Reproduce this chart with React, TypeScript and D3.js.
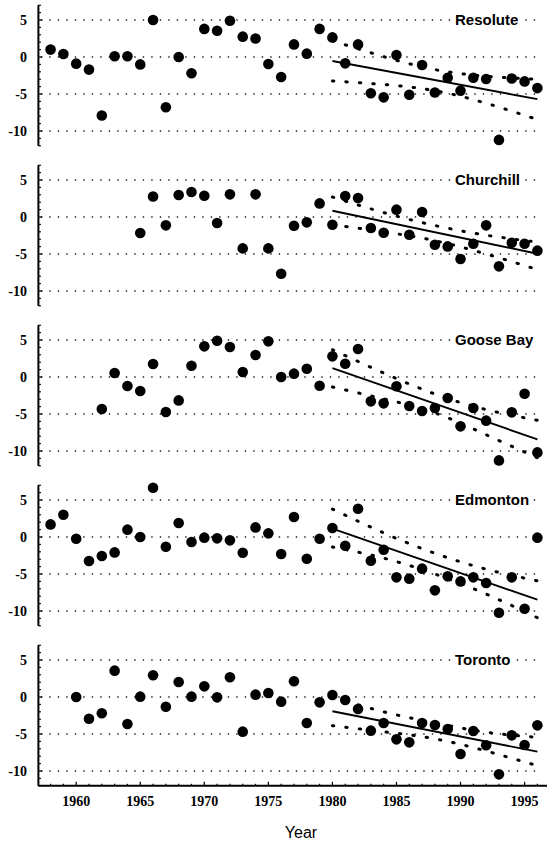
import React from 'react';
import * as d3 from 'd3';

// ---------- data ----------
const stations = ['Resolute', 'Churchill', 'Goose Bay', 'Edmonton', 'Toronto'];
const startYears = [1958, 1965, 1962, 1958, 1960];

const resolute = [1.0, 0.4, -0.9, -1.7, -7.9, 0.1, 0.1, -1.0, 5.0, -6.8, 0.0, -2.2, 3.8, 3.55, 4.9, 2.75, 2.5, -0.95, -2.7,
  1.7, 0.45, 3.8, 2.65, -0.86, 1.7, -4.9, -5.45, 0.27, -5.1, -1.08, -4.8, -2.8, -4.55, -2.8, -2.97, -11.2, -2.9, -3.3, -4.2];
const churchill = [-2.16, 2.78, -1.13, 2.97, 3.38, 2.88, -0.81, 3.06, -4.24, 3.06, -4.24, -7.66, -1.18, -0.72, 1.84,
  -1.04, 2.83, 2.56, -1.49, -2.12, 0.99, -2.39, 0.67, -3.74, -3.97, -5.68, -3.61, -1.13, -6.67, -3.47, -3.61, -4.55];
const gooseBay = [-4.32, 0.54, -1.22, -1.89, 1.76, -4.73, -3.16, 1.53, 4.14, 4.9, 4.05, 0.68, 2.97, 4.82, 0.0, 0.45, 1.12, -1.18,
  2.79, 1.8, 3.78, -3.29, -3.56, -1.26, -3.92, -4.6, -4.19, -2.84, -6.67, -4.19, -5.9, -11.27, -4.78, -2.26, -10.19];
const edmonton = [1.7, 3.01, -0.23, -3.24, -2.57, -2.08, 0.99, 0.0, 6.66, -1.31, 1.89, -0.68, -0.09, -0.18, -0.45, -2.12, 1.3, 0.49,
  -2.3, 2.7, -2.93, -0.23, 1.21, -1.18, 3.82, -3.2, -1.72, -5.45, -5.63, -4.28, -7.21, -5.32, -6.0, -5.45, -6.22, -10.23, -5.45, -9.69, -0.09];
const toronto = [0.0, -2.93, -2.2, 3.56, -3.65, 0.05, 2.93, -1.31, 2.03, 0.05, 1.44, -0.05, 2.66, -4.68, 0.32, 0.54, -0.63, 2.12,
  -3.51, -0.72, 0.27, -0.41, -1.62, -4.55, -3.51, -5.72, -6.13, -3.51, -3.78, -4.32, -7.7, -4.59, -6.53, -10.45, -5.18, -6.49, -3.83];
const seriesValues = [resolute, churchill, gooseBay, edmonton, toronto];

// trend line (1980 -> 1996)
const trendYears = [1980, 1996];
const trendResolute = [-0.54, -5.7];
const trendChurchill = [0.85, -4.96];
const trendGooseBay = [1.21, -8.43];
const trendEdmonton = [1.12, -8.47];
const trendToronto = [-1.93, -7.39];
const trends = [trendResolute, trendChurchill, trendGooseBay, trendEdmonton, trendToronto];

// confidence band (dashed)
const bandYears = [1980, 1984, 1988, 1992, 1996];
const upperResolute = [2.2, 0.05, -1.7, -2.6, -3.02];
const lowerResolute = [-3.24, -3.72, -4.55, -6.25, -8.45];
const upperChurchill = [2.7, 0.6, -1.15, -2.45, -3.4];
const lowerChurchill = [-1.05, -2.0, -3.2, -5.0, -7.1];
const upperGooseBay = [3.69, 0.55, -2.3, -4.4, -5.85];
const lowerGooseBay = [-1.35, -2.95, -4.85, -7.8, -10.9];
const upperEdmonton = [3.78, 0.55, -2.2, -4.35, -5.92];
const lowerEdmonton = [-1.35, -2.85, -5.0, -7.7, -10.9];
const upperToronto = [0.0, -2.0, -3.5, -4.75, -5.45];
const lowerToronto = [-3.87, -4.7, -5.65, -7.3, -9.28];
const uppers = [upperResolute, upperChurchill, upperGooseBay, upperEdmonton, upperToronto];
const lowers = [lowerResolute, lowerChurchill, lowerGooseBay, lowerEdmonton, lowerToronto];

const yTicks = [5, 0, -5, -10];
const xTickLabels = [1960, 1965, 1970, 1975, 1980, 1985, 1990, 1995];

// ---------- layout ----------
const W = 547;
const H = 841;
const AXIS_X = 38.4;
const PANEL_STEP = 160;
const PANEL_TOP = 5.2;
const PANEL_H = 140.6;

const serif = '"Liberation Serif", "Times New Roman", serif';
const sans = '"Liberation Sans", Arial, Helvetica, sans-serif';

export default function App() {
  const x = d3.scaleLinear().domain([1957.05, 1996.75]).range([AXIS_X, W]);
  const gridEnd = 538;

  const panels = stations.map((name, i) => {
    const top = PANEL_TOP + PANEL_STEP * i;
    const y = d3.scaleLinear().domain([-12, 7]).range([top + PANEL_H, top]);
    const vals = seriesValues[i];
    const pts = vals.map((v, k) => ({ year: startYears[i] + k, v }));
    const bandLine = d3
      .line<number>()
      .x((_, k) => x(bandYears[k]))
      .y((d) => y(d))
      .curve(d3.curveNatural);
    const minorTicks = d3.range(-12, 8);
    return (
      <g key={name}>
        {/* gridlines */}
        {yTicks.map((t) => (
          <line
            key={'g' + t}
            x1={AXIS_X + 3}
            x2={gridEnd}
            y1={y(t)}
            y2={y(t)}
            stroke="#000"
            strokeWidth={1.6}
            strokeLinecap="round"
            strokeDasharray="0.1 8.4"
          />
        ))}
        {/* y axis */}
        <line x1={AXIS_X} x2={AXIS_X} y1={top} y2={top + PANEL_H} stroke="#000" strokeWidth={2} />
        {minorTicks.map((t) => (
          <line
            key={'m' + t}
            x1={AXIS_X}
            x2={AXIS_X + (t % 5 === 0 ? 4 : 2.5)}
            y1={y(t)}
            y2={y(t)}
            stroke="#000"
            strokeWidth={1.2}
          />
        ))}
        {yTicks.map((t) => (
          <text
            key={'l' + t}
            x={27}
            y={y(t) + 5}
            textAnchor="end"
            fontFamily={serif}
            fontWeight="bold"
            fontSize={14}
            fill="#000"
          >
            {t}
          </text>
        ))}
        {/* confidence band */}
        <path
          d={bandLine(uppers[i]) || ''}
          fill="none"
          stroke="#000"
          strokeWidth={3}
          strokeLinecap="round"
          strokeDasharray="1.4 12.1"
        />
        <path
          d={bandLine(lowers[i]) || ''}
          fill="none"
          stroke="#000"
          strokeWidth={3}
          strokeLinecap="round"
          strokeDasharray="1.4 12.1"
        />
        {/* trend */}
        <line
          x1={x(trendYears[0])}
          x2={x(trendYears[1])}
          y1={y(trends[i][0])}
          y2={y(trends[i][1])}
          stroke="#000"
          strokeWidth={1.9}
        />
        {/* points */}
        {pts.map((p) => (
          <circle key={p.year} cx={x(p.year)} cy={y(p.v)} r={5.3} fill="#000" />
        ))}
        {/* station label */}
        <text
          x={455}
          y={y(5) + 5.3}
          fontFamily={sans}
          fontWeight="bold"
          fontSize={15}
          fill="#000"
          stroke="#fff"
          strokeWidth={8}
          strokeLinejoin="round"
          paintOrder="stroke"
        >
          {name}
        </text>
      </g>
    );
  });

  const lastTop = PANEL_TOP + PANEL_STEP * 4;
  const axisY = lastTop + PANEL_H;
  const yearTicks = d3.range(1958, 1997);

  return (
    <svg
      width={W}
      height={H}
      viewBox={`0 0 ${W} ${H}`}
      style={{ position: 'absolute', left: 0, top: 0, background: '#fff' }}
    >
      <rect x={0} y={0} width={W} height={H} fill="#fff" />
      {panels}
      {/* x axis */}
      <line x1={AXIS_X} x2={W} y1={axisY} y2={axisY} stroke="#000" strokeWidth={2} />
      {yearTicks.map((yr) => (
        <line
          key={'xt' + yr}
          x1={x(yr)}
          x2={x(yr)}
          y1={axisY}
          y2={axisY - (yr % 5 === 0 ? 4 : 2)}
          stroke="#000"
          strokeWidth={1.2}
        />
      ))}
      {xTickLabels.map((yr) => (
        <text
          key={'xl' + yr}
          x={x(yr)}
          y={axisY + 20}
          textAnchor="middle"
          fontFamily={serif}
          fontWeight="bold"
          fontSize={14}
          fill="#000"
        >
          {yr}
        </text>
      ))}
      <text x={301} y={838} textAnchor="middle" fontFamily={sans} fontSize={16} fill="#000">
        Year
      </text>
    </svg>
  );
}
